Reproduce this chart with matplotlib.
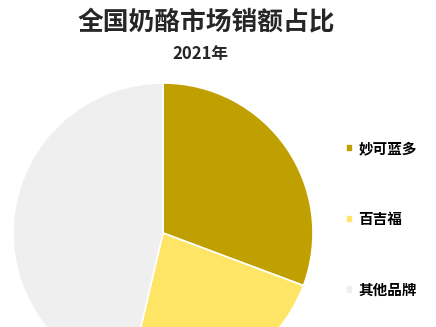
import matplotlib.pyplot as plt

# ------ Données ------
brands = ["妙可蓝多", "百吉福", "其他品牌"]
shares = [30.7, 23.0, 46.3]
colors = ["#C0A000", "#FFE566", "#EFEFEF"]

plt.rcParams['font.family'] = ['Noto Sans CJK SC', 'DejaVu Sans']

W, H = 436, 327
fig = plt.figure(figsize=(W / 100, H / 100), dpi=100)

# pie centre ~ (163, 233) px, radius ~ 150 px
cx, cy, r = 163, 233, 150
ax = fig.add_axes([(cx - r) / W, (H - cy - r) / H, 2 * r / W, 2 * r / H])
wedges, _ = ax.pie(shares, colors=colors, startangle=90, counterclock=False,
                   wedgeprops=dict(edgecolor="white", linewidth=1.2))
ax.set_xlim(-1.0, 1.0)
ax.set_ylim(-1.0, 1.0)

fig.text(206 / W, 1 - 22 / H, "全国奶酪市场销额占比", ha="center", va="center",
         fontsize=18.5, fontweight="bold", color="#262626")
fig.text(200 / W, 1 - 54 / H, "2021年", ha="center", va="center",
         fontsize=12, fontweight="bold", color="#262626")

fig.legend(wedges, brands, loc="center left", bbox_to_anchor=(333 / W, 1 - 219 / H),
           frameon=False, handlelength=0.5, handleheight=0.5,
           handletextpad=0.35, labelspacing=3.75, prop=dict(weight="bold", size=10.5))

fig.savefig("out.png", dpi=100)
